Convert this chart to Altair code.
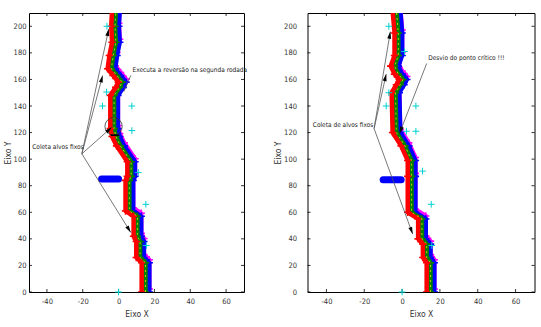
import math
import altair as alt
import pandas as pd

# Axis ranges and tick values shared by both panels
X_DOMAIN = [-50, 70]
Y_DOMAIN = [0, 210]
X_TICKS = [-40, -20, 0, 20, 40, 60]
Y_TICKS = [0, 20, 40, 60, 80, 100, 120, 140, 160, 180, 200]
H = 279

# Route followed by the formation (middle robot) - first run
path1_x = [15, 15, 12, 12, 10.5, 10.5, 6, 6, 7, 7, 1, -1.5, -2.5, -2.5, 0.5, 2, -1, -4, -3, -1.5, -2, -1.5]
path1_y = [0, 22, 26, 38, 42, 57, 61, 84, 87, 98, 110, 117, 123, 148, 154, 158, 163, 168, 178, 188, 200, 212]

# Route followed by the formation - second run (critical point avoided)
path2_x = [15, 15, 13, 13, 10.5, 10.5, 5, 5, 5, 1.5, -3, -3.5, -1, 0.5, -2, -4, -2, -2, -3]
path2_y = [0, 22, 26, 36, 40, 55, 60, 87, 99, 110, 120, 150, 156, 160, 164, 170, 178, 195, 212]

# Side excursion of the blue robot
detour1_x = [-9.5, 0]
detour1_y = [85, 85]
detour2_x = [-10, -0.5]
detour2_y = [84.5, 84.5]

# Fixed targets (cyan crosses)
targets1_x = [-6.5, -6.7, -9, 7.4, 7.4, 11, 15.2, 15.5, 0]
targets1_y = [200, 150.5, 140, 140, 121.5, 90, 66, 35, 0]
targets2_x = [-7, -7, -8.4, 7.3, 7.3, 2.3, 10.8, 15.4, 15.7, 0, 1.3]
targets2_y = [200, 150, 140, 140, 121, 121, 91, 66, 35, 0, 181]

# Annotation leader lines: start, end, arrow head at end
links1_x = [-20.5, -20.5, -20.5, -20.5, 6.8]
links1_y = [104, 104, 104, 104, 163]
links1_x2 = [-5.5, -8.9, -3.8, 6.8, 3]
links1_y2 = [198, 163, 124, 44.8, 151]
links1_head = [True, True, True, True, False]

links2_x = [-14.8, -14.8, -14.8, 13]
links2_y = [123, 123, 123, 172]
links2_x2 = [-6.2, -8.4, 5.6, -1.4]
links2_y2 = [196, 164, 43.6, 119.2]
links2_head = [True, True, True, True]

notes1_text = ["Coleta alvos fixos", "Executa a reversão na segunda rodada"]
notes1_x = [-48.2, 7.8]
notes1_y = [109, 167]
notes2_text = ["Coleta de alvos fixos", "Desvio do ponto crítico !!!"]
notes2_x = [-47.2, 13.8]
notes2_y = [125.5, 176.5]

# Reversal point (first run)
ring1 = (-2.8, 124.7)
stop1_x = [-4.4, 0.4]
stop1_y = [118, 118]

FONT = "DejaVu Sans Condensed, Liberation Sans Narrow, Liberation Sans, sans-serif"
PLUS = "M-1,0L1,0M0,-1L0,1"
HEAD = "M0,0L-0.28,1L0.28,1Z"

# robots: colour, pixel offset x, pixel offset y
ROBOTS = [
    ("#ff00ff", 3.8, -3),
    ("#0000ff", 3.8, 0),
    ("#008000", 0, 0),
    ("#ff0000", -3.8, 0),
]


def panel(w, px, py, dx, dy, tx, ty, lx, ly, lx2, ly2, lhead, ntext, nx, ny,
          label_pad, title_pad, ring=None, stop=None):
    xs = alt.Scale(domain=X_DOMAIN, nice=False, zero=False)
    ys = alt.Scale(domain=Y_DOMAIN, nice=False, zero=False)
    xa = alt.Axis(values=X_TICKS, title="Eixo X", ticks=False, domain=False, grid=False,
                  labelPadding=5, titlePadding=5, labelExpr="'' + datum.value")
    ya = alt.Axis(values=Y_TICKS, title="Eixo Y", ticks=False, domain=False, grid=False,
                  labelPadding=label_pad, titlePadding=title_pad,
                  labelExpr="'' + datum.value")

    def X(f):
        return alt.X(f, type="quantitative", scale=xs, axis=xa)

    def Y(f):
        return alt.Y(f, type="quantitative", scale=ys, axis=ya)

    layers = []

    # inward tick marks on all four sides
    xt = pd.DataFrame({"x": X_TICKS})
    yt = pd.DataFrame({"y": Y_TICKS})
    tick = dict(color="black", strokeWidth=0.8)
    layers += [
        alt.Chart(xt).mark_rule(**tick).encode(x=X("x"), y=alt.value(H), y2=alt.value(H - 3)),
        alt.Chart(xt).mark_rule(**tick).encode(x=X("x"), y=alt.value(0), y2=alt.value(3)),
        alt.Chart(yt).mark_rule(**tick).encode(y=Y("y"), x=alt.value(0), x2=alt.value(3)),
        alt.Chart(yt).mark_rule(**tick).encode(y=Y("y"), x=alt.value(w), x2=alt.value(w - 3)),
    ]

    path = pd.DataFrame({"x": px, "y": py, "i": range(len(px))})
    detour = pd.DataFrame({"x": dx, "y": dy, "i": range(len(dx))})

    for color, ox, oy in ROBOTS:
        layers.append(
            alt.Chart(path).mark_line(color=color, strokeWidth=4.5, xOffset=ox, yOffset=oy,
                                      strokeJoin="round", clip=True)
            .encode(x=X("x"), y=Y("y"), order="i:Q")
        )
        layers.append(
            alt.Chart(path).mark_point(shape=PLUS, filled=False, size=55, strokeWidth=1.6,
                                       color=color, opacity=1, xOffset=ox, yOffset=oy, clip=True)
            .encode(x=X("x"), y=Y("y"))
        )
        if color == "#0000ff":
            layers.append(
                alt.Chart(detour).mark_line(color=color, strokeWidth=7, strokeCap="round")
                .encode(x=X("x"), y=Y("y"), order="i:Q")
            )

    # thin trace over the middle robot
    layers.append(
        alt.Chart(path).mark_line(color="#d8d800", strokeWidth=0.9, strokeDash=[2, 3], clip=True)
        .encode(x=X("x"), y=Y("y"), order="i:Q")
    )

    # fixed targets
    tg = pd.DataFrame({"x": tx, "y": ty})
    layers.append(
        alt.Chart(tg).mark_point(shape=PLUS, filled=False, size=45, strokeWidth=1,
                                 color="#00d0d0", opacity=1)
        .encode(x=X("x"), y=Y("y"))
    )

    if ring is not None:
        rg = pd.DataFrame({"x": [ring[0]], "y": [ring[1]]})
        layers.append(
            alt.Chart(rg).mark_point(shape="circle", size=300, filled=False, color="#333",
                                     strokeWidth=0.8, opacity=1)
            .encode(x=X("x"), y=Y("y"))
        )
    if stop is not None:
        st = pd.DataFrame({"x": [stop[0][0]], "x2": [stop[0][1]], "y": [stop[1][0]]})
        layers.append(
            alt.Chart(st).mark_rule(color="black", strokeWidth=1.5)
            .encode(x=X("x"), x2="x2", y=Y("y"))
        )

    # leader lines and arrow heads
    sx = w / (X_DOMAIN[1] - X_DOMAIN[0])
    sy = H / (Y_DOMAIN[1] - Y_DOMAIN[0])
    lk = pd.DataFrame({"x": lx, "y": ly, "x2": lx2, "y2": ly2, "head": lhead})
    lk["angle"] = [
        math.degrees(math.atan2((b - a) * sx, (d - c) * sy)) % 360
        for a, b, c, d in zip(lk["x"], lk["x2"], lk["y"], lk["y2"])
    ]
    layers.append(
        alt.Chart(lk).mark_rule(color="#555", strokeWidth=0.8)
        .encode(x=X("x"), y=Y("y"), x2="x2", y2="y2")
    )
    layers.append(
        alt.Chart(lk[lk["head"]]).mark_point(shape=HEAD, filled=True, size=200, color="black",
                                             opacity=1, strokeWidth=0)
        .encode(x=X("x2"), y=Y("y2"), angle=alt.Angle("angle:Q", scale=None))
    )

    nt = pd.DataFrame({"x": nx, "y": ny, "t": ntext})
    layers.append(
        alt.Chart(nt).mark_text(align="left", baseline="middle", font=FONT, fontSize=6.5,
                                color="#222")
        .encode(x=X("x"), y=Y("y"), text="t:N")
    )

    return alt.layer(*layers).properties(width=w, height=H)


left = panel(215, path1_x, path1_y, detour1_x, detour1_y, targets1_x, targets1_y,
             links1_x, links1_y, links1_x2, links1_y2, links1_head,
             notes1_text, notes1_x, notes1_y, label_pad=3, title_pad=1,
             ring=ring1, stop=(stop1_x, stop1_y))
right = panel(227, path2_x, path2_y, detour2_x, detour2_y, targets2_x, targets2_y,
              links2_x, links2_y, links2_x2, links2_y2, links2_head,
              notes2_text, notes2_x, notes2_y, label_pad=11, title_pad=1)

chart = (
    alt.hconcat(left, right, spacing=63.5, bounds="flush")
    .properties(padding={"left": 2, "top": 12, "right": 0, "bottom": 0}, background="white")
    .configure_view(stroke="black", strokeWidth=1)
    .configure_axis(labelFont=FONT, labelFontSize=7.5, labelColor="#333",
                    titleFont=FONT, titleFontSize=8.5, titleFontWeight="normal",
                    titleColor="#333")
)

chart.save("out.html", embed_options={"renderer": "svg", "actions": False})
